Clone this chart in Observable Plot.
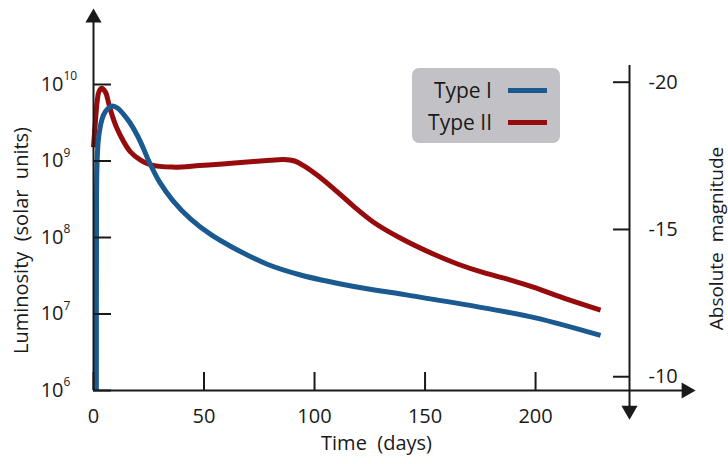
<!DOCTYPE html>
<html>
<head>
<meta charset="utf-8">
<script src="https://cdn.jsdelivr.net/npm/d3@7"></script>
<script src="https://cdn.jsdelivr.net/npm/@observablehq/plot@0.6"></script>
<style>
  body { margin: 0; background: #fff; }
  #wrap { position: relative; width: 728px; height: 464px; font-family: "Open Sans", sans-serif; color: #1a1a1a; }
  #legend { position: absolute; left: 412px; top: 68px; width: 148px; height: 75px; background: #c2c2c6; border-radius: 7px; }
  .lab { position: absolute; right: 68px; height: 26px; line-height: 26px; font-size: 21px; white-space: nowrap; }
  .sw { position: absolute; left: 96px; width: 39px; height: 5px; }
</style>
</head>
<body>
<div id="wrap"><div id="chart"></div><div id="legend"></div></div>
<script>
// ---- data ----
const seriesNames = ["Type I", "Type II"];
const seriesColors = ["#1b5a91", "#960c0c"];

// Type I: days and log10(luminosity / L_sun)
const type1Days = [1.3, 1.35, 1.5, 2.1, 3.2, 4.5, 6.3, 8.6, 11, 13.6, 16.5, 19.9, 22.5, 25, 30, 36, 44, 53, 63, 78.6, 93.7, 116, 143.4, 176.5, 200, 229.4];
const type1LogL = [6.0, 8.0, 8.85, 9.25, 9.47, 9.6, 9.68, 9.72, 9.69, 9.61, 9.5, 9.33, 9.17, 9.0, 8.72, 8.48, 8.24, 8.04, 7.87, 7.65, 7.51, 7.37, 7.24, 7.08, 6.95, 6.72];

// Type II
const type2Days = [0, 0.9, 1.7, 2.4, 3.6, 5.4, 6.9, 8.4, 10.7, 13.7, 16.7, 21.3, 25.8, 36, 48, 60, 71, 80, 86, 91, 95, 101, 108.6, 117.6, 126.7, 139, 154, 165, 176.5, 188, 199, 214.5, 229.4];
const type2LogL = [9.18, 9.53, 9.79, 9.9, 9.95, 9.9, 9.75, 9.6, 9.42, 9.25, 9.12, 9.01, 8.95, 8.92, 8.94, 8.965, 8.99, 9.01, 9.02, 9.0, 8.94, 8.82, 8.64, 8.41, 8.2, 7.99, 7.78, 7.65, 7.54, 7.45, 7.35, 7.19, 7.05];

// tick labels
const xTicks = [0, 50, 100, 150, 200];
const lumExponents = [6, 7, 8, 9, 10];
const magTicks = [-20, -15, -10];

// labels
const xTitle = "Time\u00a0 (days)";
const yTitle = "Luminosity\u00a0 (solar\u00a0 units)";
const y2Title = "Absolute\u00a0 magnitude";

// ---- layout / calibration constants (not data) ----
const xMax = 242.5;          // right axis position (days)
const xArrow = 268.2;        // x-axis arrow head (days)
const yArrowLog = 10.87;     // top of luminosity axis (log10)
const magOffset = 2.33, magSlope = -0.385;   // right-axis calibration as drawn: log10 L = a + b*M
const magTop = -20.57, magArrow = -8.86;     // extent of right axis (magnitudes)
const magToL = m => 10 ** (magOffset + magSlope * m);
const LToMag = v => Math.round((Math.log10(v) - magOffset) / magSlope);

const rows = [];
type1Days.forEach((d, i) => rows.push({series: seriesNames[0], day: d, L: 10 ** type1LogL[i]}));
type2Days.forEach((d, i) => rows.push({series: seriesNames[1], day: d, L: 10 ** type2LogL[i]}));

const ink = "#1a1a1a";

const chart = Plot.plot({
  width: 728,
  height: 464,
  marginLeft: 93,
  marginRight: 99,
  marginTop: 84,
  marginBottom: 74,
  style: {fontFamily: "'Open Sans', sans-serif", fontSize: "20px", color: ink, background: "#fff"},
  x: {domain: [0, xMax]},
  y: {type: "log", domain: [1e6, 1e10]},
  color: {domain: seriesNames, range: seriesColors},
  marks: [
    // curves
    Plot.line(rows.filter(r => r.series === seriesNames[1]), {x: "day", y: "L", stroke: "series", strokeWidth: 5, curve: "catmull-rom", strokeLinecap: "butt", strokeLinejoin: "round"}),
    Plot.line(rows.filter(r => r.series === seriesNames[0]), {x: "day", y: "L", stroke: "series", strokeWidth: 5, curve: "catmull-rom", strokeLinecap: "butt", strokeLinejoin: "round"}),

    // axis lines
    Plot.ruleX([0], {y1: 1e6, y2: 10 ** yArrowLog, stroke: ink, strokeWidth: 2}),
    Plot.ruleY([1e6], {x1: 0, x2: xArrow, stroke: ink, strokeWidth: 2}),
    Plot.ruleX([xMax], {y1: magToL(magTop), y2: magToL(magArrow), stroke: ink, strokeWidth: 2}),
    // arrow heads
    Plot.dot([0], {x: 0, y: 10 ** yArrowLog, symbol: "triangle", r: 6, fill: ink, stroke: null}),
    Plot.dot([0], {x: xArrow, y: 1e6, symbol: "triangle", r: 6, fill: ink, stroke: null, rotate: 90}),
    Plot.dot([0], {x: xMax, y: magToL(magArrow), symbol: "triangle", r: 6, fill: ink, stroke: null, rotate: 180}),

    // left axis (inward ticks) with 10^n labels
    Plot.axisY(lumExponents.map(e => 10 ** e), {anchor: "left", label: null, tickSize: -18, tickPadding: 48, strokeWidth: 2, stroke: ink, tickFormat: () => "10", fontSize: 20, fill: ink}),
    Plot.text(lumExponents, {y: e => 10 ** e, text: e => String(e), frameAnchor: "left", textAnchor: "start", dx: -30, dy: -8, fontSize: 12, fill: ink}),

    // bottom axis
    Plot.axisX(xTicks, {anchor: "bottom", label: null, tickSize: -18, tickPadding: 36, strokeWidth: 2, stroke: ink, tickFormat: d => String(d), fontSize: 20, fill: ink}),

    // right axis (absolute magnitude)
    Plot.axisY(magTicks.map(magToL), {anchor: "right", label: null, tickSize: -17, tickPadding: 36, strokeWidth: 2, stroke: ink, tickFormat: d => String(LToMag(d)), fontSize: 20, fill: ink}),

    // titles
    Plot.text([yTitle], {frameAnchor: "left", textAnchor: "middle", rotate: -90, dx: -72, dy: 3, fontSize: 20, fill: ink}),
    Plot.text([y2Title], {frameAnchor: "right", textAnchor: "middle", rotate: -90, dx: 87, dy: 1, fontSize: 19, fill: ink}),
    Plot.text([xTitle], {frameAnchor: "bottom", textAnchor: "middle", dx: 15, dy: 59, fontSize: 20, fill: ink})
  ]
});
document.getElementById("chart").appendChild(chart);

// legend (inside plot area, as in the reference)
const legend = document.getElementById("legend");
seriesNames.forEach((name, i) => {
  const top = 9 + i * 32;
  const lab = document.createElement("div");
  lab.className = "lab";
  lab.style.top = top + "px";
  lab.textContent = name;
  legend.appendChild(lab);
  const sw = document.createElement("div");
  sw.className = "sw";
  sw.style.top = (top + 11) + "px";
  sw.style.background = seriesColors[i];
  legend.appendChild(sw);
});
</script>
</body>
</html>
